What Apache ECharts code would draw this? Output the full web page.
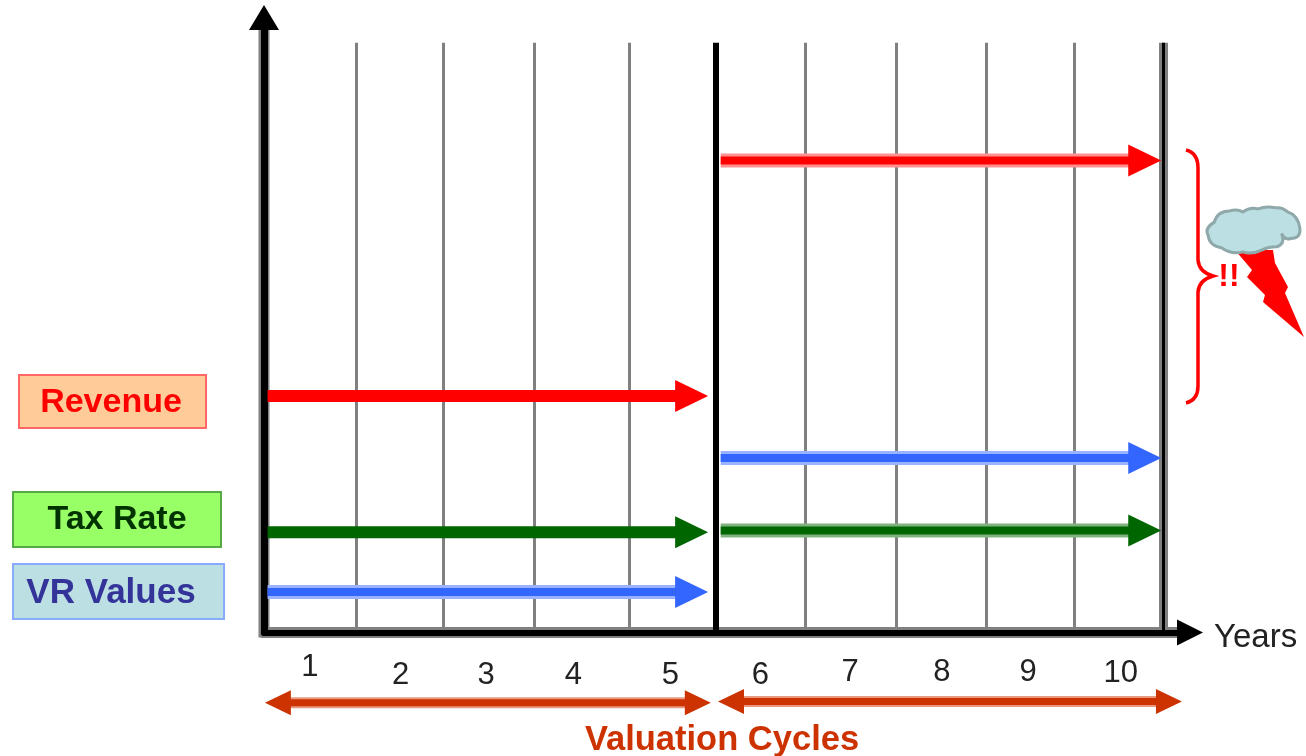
<!DOCTYPE html>
<html>
<head>
<meta charset="utf-8">
<title>Valuation Cycles</title>
<script src="https://cdn.jsdelivr.net/npm/echarts@6/dist/echarts.min.js"></script>
<style>
  html, body { margin: 0; padding: 0; background: #fff; }
  #chart { width: 1306px; height: 756px; }
</style>
</head>
<body>
<div id="chart"></div>
<script>
// Values: x in years, y in arbitrary level units (no y scale shown)
const gridYears = [1.03, 2.0, 3.01, 4.06, 6.02, 7.03, 8.04, 9.02];
const cycleStartX = [0.04, 5.08];
const cycleEndX = [4.94, 9.98];
const revenueLevels = [40.1, 80.05];
const taxRateLevels = [17.0, 17.3];
const vrValuesLevels = [6.87, 29.6];
const yearLabels = ['1', '2', '3', '4', '5', '6', '7', '8', '9', '10'];
const yearLabelX = [0.51, 1.52, 2.47, 3.44, 4.52, 5.52, 6.52, 7.54, 8.50, 9.53];
const yearLabelY = [-5.9, -7.2, -7.2, -7.2, -7.2, -7.3, -6.8, -6.8, -6.8, -7.0];
const cycleSpanStart = [0.01, 5.05];
const cycleSpanEnd = [4.97, 10.21];
const cycleSpanLevel = [-11.9, -11.7];
const cycleBoundary = 5.03;
const lastYear = 10;
const topLevel = 100;

const FONT = '"Liberation Sans", Arial, sans-serif';

function pairs(levels) {
    return levels.map((y, i) => [cycleStartX[i], cycleEndX[i], y]);
}

// Arrow drawn from axis values, head size in pixels
function arrowSeries(name, color, halos, data, opts) {
    return {
        type: 'custom',
        name: name,
        coordinateSystem: 'cartesian2d',
        clip: false,
        z: 4,
        encode: { x: [0, 1], y: 2 },
        data: data,
        renderItem: function (params, api) {
            const a = api.coord([api.value(0), api.value(2)]);
            const b = api.coord([api.value(1), api.value(2)]);
            const y = a[1];
            const h = opts.headLen, w = opts.headWidth / 2;
            const halo = halos[params.dataIndex];
            const x0 = opts.both ? a[0] + h - 1 : a[0];
            const x1 = b[0] - h + 1;
            const kids = [];
            if (halo) {
                kids.push({ type: 'rect', shape: { x: x0, y: y - opts.haloWidth / 2, width: x1 - x0, height: opts.haloWidth }, style: { fill: halo } });
            }
            const core = halo ? opts.coreWidth : opts.solidWidth;
            kids.push({ type: 'rect', shape: { x: x0, y: y - core / 2, width: x1 - x0, height: core }, style: { fill: color } });
            kids.push({ type: 'polygon', shape: { points: [[b[0] - h, y - w], [b[0], y], [b[0] - h, y + w]] }, style: { fill: color } });
            if (opts.both) {
                kids.push({ type: 'polygon', shape: { points: [[a[0] + h, y - w], [a[0], y], [a[0] + h, y + w]] }, style: { fill: color } });
            }
            return { type: 'group', children: kids };
        }
    };
}

function verticalLines(name, years, width, color, z) {
    return {
        type: 'custom',
        name: name,
        coordinateSystem: 'cartesian2d',
        clip: false,
        z: z,
        encode: { x: 0 },
        data: years.map(v => [v]),
        renderItem: function (params, api) {
            const p0 = api.coord([api.value(0), 0]);
            const p1 = api.coord([api.value(0), topLevel]);
            // snap to the pixel so odd widths stay crisp
            const x = width % 2 ? Math.floor(p0[0]) + 0.5 : Math.round(p0[0]);
            return { type: 'line', shape: { x1: x, y1: p0[1], x2: x, y2: p1[1] }, style: { stroke: color, lineWidth: width } };
        }
    };
}

// Grey soft edge around the two main axes
const axisEdges = {
    type: 'custom',
    name: 'axis edges',
    coordinateSystem: 'cartesian2d',
    clip: false,
    z: 1,
    data: [[0]],
    renderItem: function (params, api) {
        const o = api.coord([0, 0]);
        const top = api.coord([0, 103]);
        const end = api.coord([10.2, 0]);
        const st = { stroke: '#808080', lineWidth: 11 };
        return {
            type: 'group',
            children: [
                { type: 'line', shape: { x1: o[0], y1: o[1] + 5, x2: top[0], y2: top[1] }, style: st },
                { type: 'line', shape: { x1: o[0] - 3, y1: o[1], x2: end[0], y2: end[1] }, style: st }
            ]
        };
    }
};

const yearLabelSeries = {
    type: 'custom',
    name: 'year labels',
    coordinateSystem: 'cartesian2d',
    clip: false,
    z: 5,
    data: yearLabels.map((t, i) => [yearLabelX[i], yearLabelY[i], t]),
    renderItem: function (params, api) {
        const p = api.coord([api.value(0), api.value(1)]);
        return {
            type: 'text',
            style: { text: yearLabels[params.dataIndex], x: p[0], y: p[1], fill: '#222', font: '31px ' + FONT, textAlign: 'center', textVerticalAlign: 'middle' }
        };
    }
};

// Storm cloud, lightning and brace beside the last revenue arrow
const warningSeries = {
    type: 'custom',
    name: 'warning',
    coordinateSystem: 'none',
    silent: true,
    z: 5,
    data: [[0]],
    renderItem: function () {
        return {
            type: 'group',
            children: [
                {
                    type: 'path',
                    shape: { pathData: 'M1186 150 Q1198 153 1198 168 L1198 260 Q1199 272 1213 276 Q1199 280 1198 292 L1198 386 Q1198 400 1186 403', x: 1186, y: 150, width: 27, height: 253, layout: 'cover' },
                    style: { stroke: '#ff0000', lineWidth: 3.5, fill: null }
                },
                {
                    type: 'polygon',
                    shape: { points: [[1235, 250], [1273, 250], [1275, 263], [1288, 287], [1285, 293], [1304, 337], [1263, 302], [1265, 295], [1247, 277], [1252, 270]] },
                    style: { fill: '#ff0000' }
                },
                {
                    type: 'path',
                    shape: { pathData: 'M1215 222 Q1218 211 1230 211 Q1238 209 1243 212 Q1250 207 1258 209 Q1266 206 1275 208 Q1282 207 1287 212 Q1297 215 1299 228 Q1300 238 1290 238 Q1284 240 1281 233 Q1285 244 1276 246 Q1268 246 1262 249 Q1252 254 1243 251 Q1232 254 1222 247 Q1210 245 1209 235 Q1205 228 1215 222 Z', x: 1207, y: 207, width: 93, height: 46, layout: 'cover' },
                    style: { fill: '#BBDFE3', stroke: '#8FA8AA', lineWidth: 3 }
                }
            ]
        };
    }
};

function legendBox(x, y, w, h, fill, stroke, label, color, labelX, labelY, size) {
    return [
        { type: 'rect', shape: { x: x + 1, y: y + 1, width: w - 2, height: h - 2 }, style: { fill: fill, stroke: stroke, lineWidth: 2 }, z: 10 },
        { type: 'text', style: { text: label, x: labelX, y: labelY, fill: color, font: 'bold ' + size + 'px ' + FONT, textAlign: 'center', textVerticalAlign: 'middle' }, z: 11 }
    ];
}

const chart = echarts.init(document.getElementById('chart'));

const arrowOpts = { headLen: 33, headWidth: 32, solidWidth: 12, coreWidth: 8, haloWidth: 14 };
const spanOpts = { headLen: 26, headWidth: 25, solidWidth: 7, coreWidth: 7, haloWidth: 11, both: true };

const option = {
    animation: false,
    backgroundColor: '#fff',
    grid: { left: 264, top: 17.5, width: 926, height: 615 },
    xAxis: {
        type: 'value',
        min: 0,
        max: 10.3,
        z: 2,
        axisLine: { show: true, onZero: false, symbol: ['none', 'triangle'], symbolSize: [26, 26], lineStyle: { color: '#000', width: 6 } },
        axisTick: { show: false },
        axisLabel: { show: false },
        splitLine: { show: false }
    },
    yAxis: {
        type: 'value',
        min: 0,
        max: 104.3,
        z: 2,
        axisLine: { show: true, onZero: false, symbol: ['none', 'triangle'], symbolSize: [30, 25], lineStyle: { color: '#000', width: 7 } },
        axisTick: { show: false },
        axisLabel: { show: false },
        splitLine: { show: false }
    },
    series: [
        axisEdges,
        verticalLines('years', gridYears, 3, '#808080', 1),
        verticalLines('last year edge', [lastYear], 9, '#808080', 1),
        verticalLines('last year', [lastYear], 3, '#000', 3),
        verticalLines('cycle boundary', [cycleBoundary], 6, '#000', 3),
        arrowSeries('Revenue', '#ff0000', [null, '#ff9090'], pairs(revenueLevels), arrowOpts),
        arrowSeries('Tax Rate', '#006600', [null, '#80b280'], pairs(taxRateLevels), arrowOpts),
        arrowSeries('VR Values', '#3366ff', ['#99b3ff', '#99b3ff'], pairs(vrValuesLevels), arrowOpts),
        arrowSeries('Valuation Cycles', '#cc3300', ['#e89980', '#e89980'],
            cycleSpanLevel.map((y, i) => [cycleSpanStart[i], cycleSpanEnd[i], y]), spanOpts),
        yearLabelSeries,
        warningSeries
    ],
    graphic: [].concat(
        legendBox(18, 374, 189, 55, '#FFCC99', '#FF6666', 'Revenue', '#ff0000', 111, 403, 34),
        legendBox(12, 491, 210, 57, '#99FF66', '#55AA44', 'Tax Rate', '#003300', 117, 520, 34),
        legendBox(12, 563, 213, 57, '#BBDFE3', '#88AAFF', 'VR Values', '#333399', 111, 593, 35),
        [
            { type: 'text', style: { text: 'Valuation Cycles', x: 722, y: 740, fill: '#cc3300', font: 'bold 34.5px ' + FONT, textAlign: 'center', textVerticalAlign: 'middle' }, z: 11 },
            { type: 'text', style: { text: 'Years', x: 1214, y: 638, fill: '#222', font: '33px ' + FONT, textAlign: 'left', textVerticalAlign: 'middle' }, z: 11 },
            { type: 'text', style: { text: '!!', x: 1229, y: 277, fill: '#ff0000', font: 'bold 32px ' + FONT, textAlign: 'center', textVerticalAlign: 'middle' }, z: 11 }
        ]
    )
};

chart.setOption(option);
window.addEventListener('resize', () => chart.resize());
</script>
</body>
</html>
